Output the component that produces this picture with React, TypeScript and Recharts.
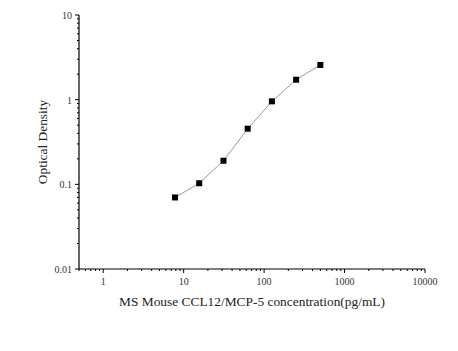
import { ScatterChart, Scatter, XAxis, YAxis } from "recharts";

const concentrations = [7.8, 15.6, 31.25, 62.5, 125, 250, 500];
const densities = [0.07, 0.103, 0.19, 0.454, 0.955, 1.72, 2.57];

const xMajor = [1, 10, 100, 1000, 10000];
const yMajor = [0.01, 0.1, 1, 10];

const xTicks = [
  0.5, 0.6, 0.7, 0.8, 0.9,
  1, 2, 3, 4, 5, 6, 7, 8, 9,
  10, 20, 30, 40, 50, 60, 70, 80, 90,
  100, 200, 300, 400, 500, 600, 700, 800, 900,
  1000, 2000, 3000, 4000, 5000, 6000, 7000, 8000, 9000,
  10000,
];
const yTicks = [
  0.01, 0.02, 0.03, 0.04, 0.05, 0.06, 0.07, 0.08, 0.09,
  0.1, 0.2, 0.3, 0.4, 0.5, 0.6, 0.7, 0.8, 0.9,
  1, 2, 3, 4, 5, 6, 7, 8, 9,
  10,
];

const points = concentrations.map((c, i) => ({ x: c, y: densities[i] }));

const font = "'Liberation Serif', 'DejaVu Serif', serif";

const isMajor = (list: number[], v: number) => list.some((m) => Math.abs(m - v) < 1e-9);

function XTick({ x, y, payload }: any) {
  const major = isMajor(xMajor, payload.value);
  return (
    <g>
      <line x1={x} x2={x} y1={y} y2={y + (major ? 4 : 2)} stroke="#000" />
      {major && (
        <text x={x} y={y + 16} textAnchor="middle" fontSize={10} fill="#333" fontFamily={font}>
          {payload.value}
        </text>
      )}
    </g>
  );
}

function YTick({ x, y, payload }: any) {
  const major = isMajor(yMajor, payload.value);
  return (
    <g>
      <line x1={x} x2={x - (major ? 4 : 2)} y1={y} y2={y} stroke="#000" />
      {major && (
        <text x={x - 7} y={y + 4} textAnchor="end" fontSize={10} fill="#333" fontFamily={font}>
          {payload.value}
        </text>
      )}
    </g>
  );
}

function Marker({ cx, cy }: any) {
  return <rect x={cx - 3} y={cy - 3} width={6} height={6} fill="#000" />;
}

export default function App() {
  return (
    <div style={{ width: 450, height: 343, background: "#fff" }}>
      <ScatterChart width={450} height={343} margin={{ top: 7, right: 33, bottom: 32, left: 31 }}>
        <XAxis
          type="number"
          dataKey="x"
          scale="log"
          domain={[0.5, 10000]}
          ticks={xTicks}
          interval={0}
          tickSize={0}
          tickMargin={0}
          tickLine={false}
          tick={<XTick />}
          height={50}
          axisLine={{ stroke: "#000", strokeWidth: 1.2 }}
          allowDataOverflow
          label={{
            value: "MS Mouse CCL12/MCP-5 concentration(pg/mL)",
            position: "insideBottom",
            offset: 13,
            fontSize: 13.4,
            fill: "#222",
            fontFamily: font,
          }}
        />
        <YAxis
          type="number"
          dataKey="y"
          scale="log"
          domain={[0.01, 10]}
          ticks={yTicks}
          interval={0}
          tickSize={0}
          tickMargin={0}
          tickLine={false}
          tick={<YTick />}
          width={40}
          axisLine={{ stroke: "#000", strokeWidth: 1.2 }}
          allowDataOverflow
          label={{
            value: "Optical Density",
            angle: -90,
            position: "insideLeft",
            offset: 3,
            fontSize: 13.4,
            fill: "#222",
            fontFamily: font,
            style: { textAnchor: "middle" },
          }}
        />
        <Scatter
          data={points}
          line={{ stroke: "#999", strokeWidth: 1 }}
          shape={<Marker />}
          isAnimationActive={false}
        />
      </ScatterChart>
    </div>
  );
}
